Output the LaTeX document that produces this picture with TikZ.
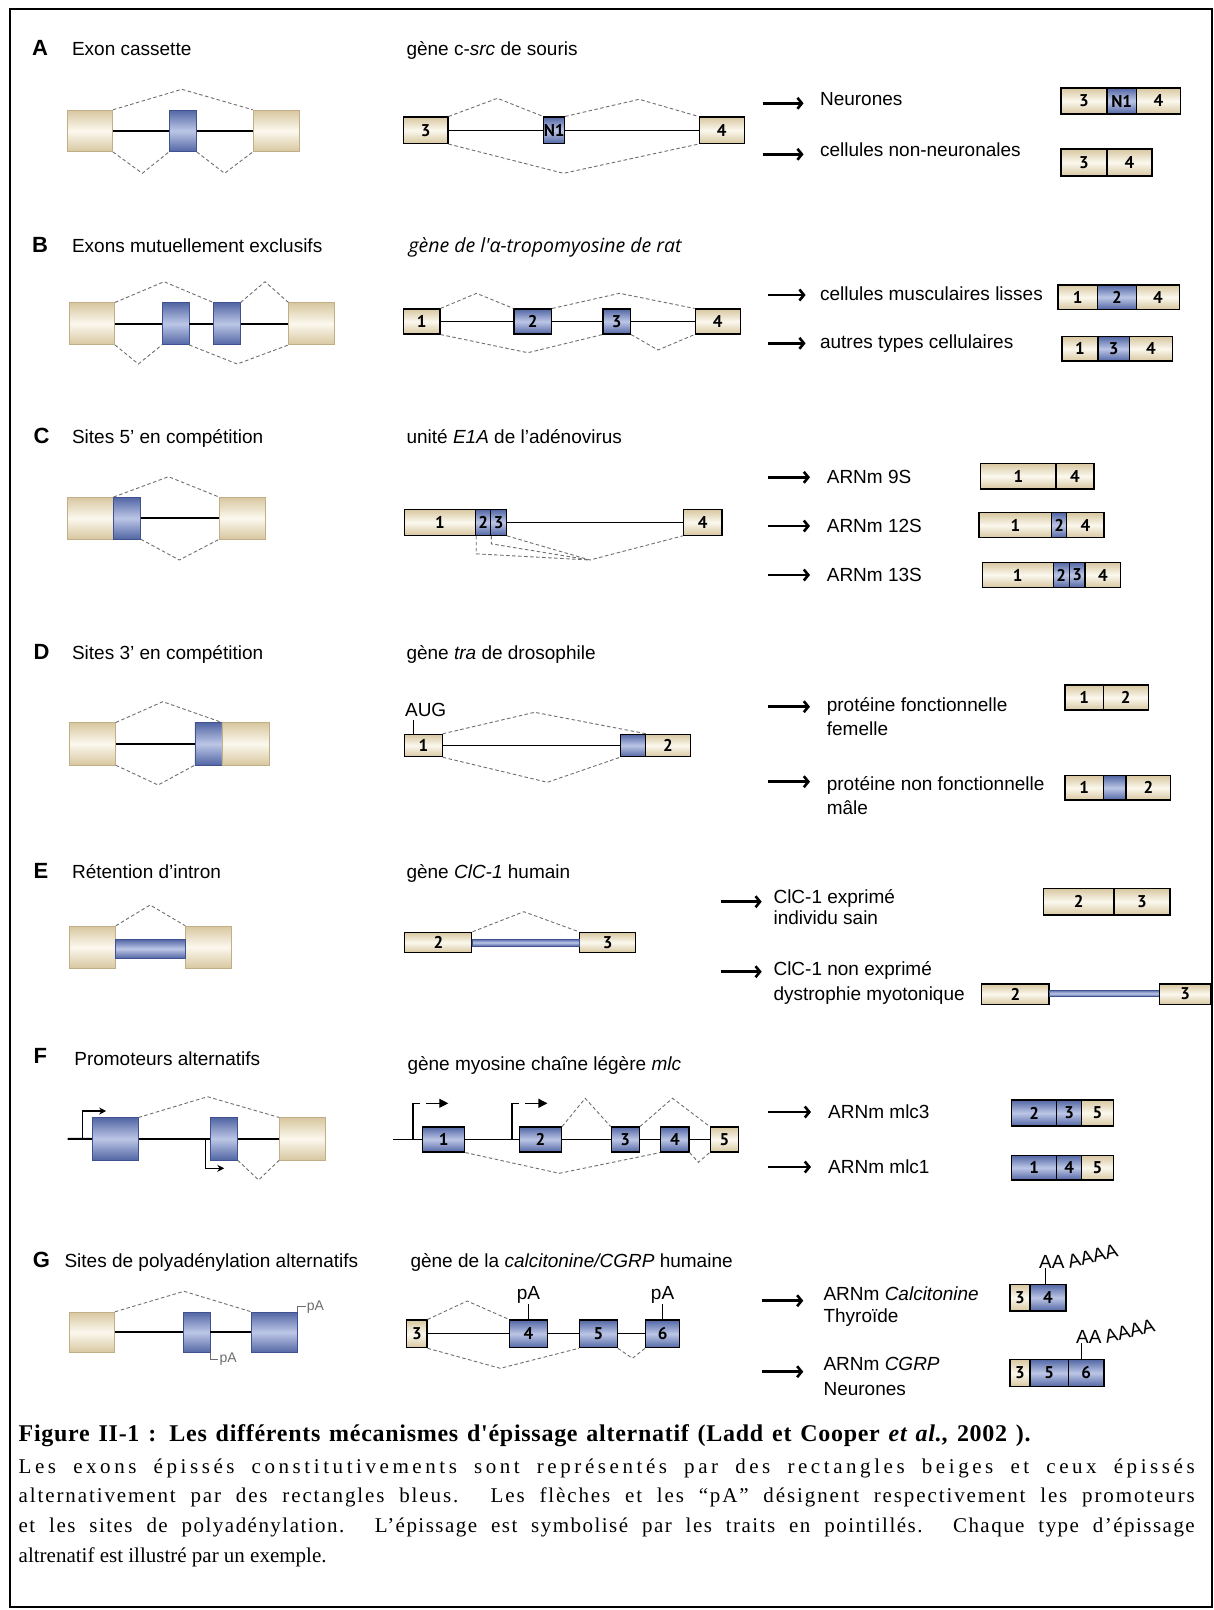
\documentclass[tikz,border=0pt]{standalone}
\usepackage{fontspec}
\usepackage{graphicx}
\setmainfont{Liberation Sans}
\newfontfamily\numf{PT Sans}
\newfontfamily\itf{Open Sans}
\newfontfamily\capf{Liberation Serif}
\usetikzlibrary{arrows.meta}
\definecolor{bD}{HTML}{D8C7A0}
\definecolor{bL}{HTML}{FBF8EE}
\definecolor{bdr}{HTML}{BFAE86}
\definecolor{uD}{HTML}{5266A4}
\definecolor{uL}{HTML}{BCC6E6}
\definecolor{udr}{HTML}{3F5190}
\definecolor{dsh}{HTML}{6E6E6E}
\newcommand\hsz{\fontsize{19}{23}\selectfont}
\newcommand\lsz{\fontsize{19}{22}\selectfont}
\newcommand\nsz{\numf\bfseries\fontsize{17}{17}\selectfont}
\newcommand\exon[7]{\pgfmathsetmacro\exw{#5-(#3)}\pgfmathsetmacro\exh{#6-(#4)}%
  \node[#1,minimum width=\exw pt,minimum height=\exh pt] (#2) at ({(#3+#5)/2},{(#4+#6)/2}) {#7};}
\begin{document}
\begin{tikzpicture}[x=1pt,y=-1pt,
  bLs/.style={draw=bdr,line width=0.5pt,top color=bD,bottom color=bD,middle color=bL,inner sep=0pt},
  uLs/.style={draw=udr,line width=0.5pt,top color=uD,bottom color=uD,middle color=uL,inner sep=0pt},
  bM/.style={bLs,draw=black,line width=1.1pt,font=\nsz},
  uM/.style={uLs,draw=black,line width=1.1pt,font=\nsz},
  spl/.style={draw=dsh,line width=0.9pt,dash pattern=on 3.5pt off 2.5pt},
  intr/.style={line width=2pt},
  intm/.style={line width=1.2pt},
  res/.style={line width=2.6pt,-{Straight Barb[length=4.5pt,width=11pt]}},
  prom/.style={line width=1.4pt,-{Stealth[length=7pt,width=7pt]}},
  letr/.style={anchor=base west,font=\bfseries\fontsize{22}{22}\selectfont},
  hd/.style={anchor=base west,font=\hsz},
  lt/.style={anchor=base west,font=\lsz,align=left},
  pa/.style={font=\fontsize{19}{19}\selectfont,inner sep=1pt},
  aa/.style={anchor=base west,font=\fontsize{19}{19}\selectfont,inner sep=0pt},
  captxt/.style={anchor=base west,inner sep=0pt,font=\capf\fontsize{21}{24}\selectfont}]
\useasboundingbox (0,0) rectangle (1214,1610);
\fill[white] (0,0) rectangle (1214,1610);

% ================= A =================
\node[letr] (lA) at (28.5,55) {A};
\node[hd] (hA) at (68.5,55) {Exon cassette};
\node[hd] (mA) at (403,55) {gène c-\textit{src} de souris};
\exon{bLs}{A1}{67.2}{110}{112.7}{151.7}{}
\exon{uLs}{A2}{169.2}{110}{196.5}{151.7}{}
\exon{bLs}{A3}{253}{110}{299.3}{151.7}{}
\draw[intr] (A1) -- (A2); \draw[intr] (A2) -- (A3);
\coordinate (Aa) at (181.9,89.3); \coordinate (Ab) at (142.3,173.3); \coordinate (Ac) at (224.6,173.3);
\draw[spl] (A1.north east) -- (Aa) -- (A3.north west);
\draw[spl] (A1.south east) -- (Ab) -- (A2.south west);
\draw[spl] (A2.south east) -- (Ac) -- (A3.south west);
\exon{bM}{AM3}{403.3}{117}{448}{143.5}{3}
\exon{uM}{AMN}{543.7}{117}{564.6}{143.5}{N1}
\exon{bM}{AM4}{699.1}{117}{744.1}{143.5}{4}
\draw[intm] (AM3) -- (AMN); \draw[intm] (AMN) -- (AM4);
\coordinate (Ad) at (497.4,98.3); \coordinate (Ae) at (639.2,99.3); \coordinate (Af) at (563.5,173.3);
\draw[spl] (AM3.north east) -- (Ad) -- (AMN.north west);
\draw[spl] (AMN.north east) -- (Ae) -- (AM4.north west);
\draw[spl] (AM3.south east) -- (Af) -- (AM4.south west);
\coordinate (Ar1) at (762.5,103.3); \coordinate (Ar1e) at (803.6,103.3);
\coordinate (Ar2) at (762.5,154.3); \coordinate (Ar2e) at (803.6,154.3);
\draw[res] (Ar1) -- (Ar1e); \draw[res] (Ar2) -- (Ar2e);
\node[lt] (tA1) at (816.5,105.7) {Neurones};
\node[lt] (tA2) at (816.5,156) {cellules non-neuronales};
\exon{bM}{RA1}{1061}{88}{1107}{114}{3}
\exon{uM}{RA2}{1107}{88}{1136.4}{114}{N1}
\exon{bM}{RA3}{1136.4}{88}{1180.7}{114}{4}
\exon{bM}{RA4}{1061}{149}{1107}{176}{3}
\exon{bM}{RA5}{1107}{149}{1152}{176}{4}

% ================= B =================
\node[letr] (lB) at (28.5,252) {B};
\node[hd] (hB) at (68.5,252) {Exons mutuellement exclusifs};
\node[anchor=base west,font=\itf\itshape\fontsize{19.5}{22}\selectfont] (mB) at (405,252) {gène de l'α-tropomyosine de rat};
\exon{bLs}{B1}{69.2}{302.7}{114.7}{344.7}{}
\exon{uLs}{B2}{162.1}{302.7}{189}{344.7}{}
\exon{uLs}{B3}{213.5}{302.7}{240.4}{344.7}{}
\exon{bLs}{B4}{288.7}{302.7}{334.1}{344.7}{}
\draw[intr] (B1) -- (B2); \draw[intr] (B2) -- (B3); \draw[intr] (B3) -- (B4);
\coordinate (Ba) at (164.1,281.7); \coordinate (Bb) at (265,281.7);
\coordinate (Bc) at (138.4,364); \coordinate (Bd) at (237.2,364);
\draw[spl] (B1.north east) -- (Ba) -- (B3.north west);
\draw[spl] (B3.north east) -- (Bb) -- (B4.north west);
\draw[spl] (B1.south east) -- (Bc) -- (B2.south west);
\draw[spl] (B2.south east) -- (Bd) -- (B4.south west);
\exon{bM}{BM1}{403.3}{309}{440}{334}{1}
\exon{uM}{BM2}{514}{309}{551.6}{334}{2}
\exon{uM}{BM3}{603}{309}{630.5}{334}{3}
\exon{bM}{BM4}{695.1}{309}{740.2}{334}{4}
\draw[intm] (BM1) -- (BM2); \draw[intm] (BM2) -- (BM3); \draw[intm] (BM3) -- (BM4);
\coordinate (Be) at (476.5,293.3); \coordinate (Bf) at (619.6,293.3);
\coordinate (Bg) at (527.9,352.7); \coordinate (Bh) at (658,350);
\draw[spl] (BM1.north east) -- (Be) -- (BM2.north west);
\draw[spl] (BM2.north east) -- (Bf) -- (BM4.north west);
\draw[spl] (BM1.south east) -- (Bg) -- (BM3.south west);
\draw[spl] (BM3.south east) -- (Bh) -- (BM4.south west);
\coordinate (Br1) at (768.4,295); \coordinate (Br1e) at (805.6,295);
\coordinate (Br2) at (768.4,343.3); \coordinate (Br2e) at (805.6,343.3);
\draw[res] (Br1) -- (Br1e); \draw[res] (Br2) -- (Br2e);
\node[lt] (tB1) at (816.5,300) {cellules musculaires lisses};
\node[lt] (tB2) at (816.5,348.3) {autres types cellulaires};
\exon{bM}{RB1}{1058}{285}{1097.3}{309.3}{1}
\exon{uM}{RB2}{1097.3}{285}{1136.4}{309.3}{2}
\exon{bM}{RB3}{1136.4}{285}{1179.5}{309.3}{4}
\exon{bM}{RB4}{1062}{336.7}{1098}{361}{1}
\exon{uM}{RB5}{1098}{336.7}{1129.4}{361}{3}
\exon{bM}{RB6}{1129.4}{336.7}{1172.4}{361}{4}

% ================= C =================
\node[letr] (lC) at (30,443.7) {C};
\node[hd] (hC) at (68.5,443.7) {Sites 5' en compétition};
\node[hd] (mC) at (403,443.7) {unité \textit{E1A} de l'adénovirus};
\exon{bLs}{C1}{67.5}{497.3}{113.3}{539}{}
\exon{uLs}{C2}{113.3}{497.3}{140.6}{539}{}
\exon{bLs}{C3}{219.4}{497.3}{265.7}{539}{}
\draw[intr] (C2) -- (C3);
\coordinate (Ca) at (168.5,476.7); \coordinate (Cb) at (179.3,560);
\draw[spl] (C1.north east) -- (Ca) -- (C3.north west);
\draw[spl] (C2.south east) -- (Cb) -- (C3.south west);
\exon{bM}{CM1}{404.4}{509.3}{475.7}{535.3}{1}
\exon{uM}{CM2}{475.7}{509.3}{490.8}{535.3}{2}
\exon{uM}{CM3}{490.8}{509.3}{506.4}{535.3}{3}
\exon{bM}{CM4}{683.3}{509.3}{722}{535.3}{4}
\draw[intm] (CM3) -- (CM4);
\coordinate (Cc) at (589.9,560);
\draw[spl] (CM1.south east) -- ++(0,18) -- (Cc);
\draw[spl] (CM2.south east) -- ++(0,8) -- (Cc);
\draw[spl] (CM3.south east) -- (Cc) -- (CM4.south west);
\foreach \i/\y in {1/477.3,2/526,3/575}{
  \coordinate (Cr\i) at (768.3,\y); \coordinate (Cr\i e) at (810,\y);
  \draw[res] (Cr\i) -- (Cr\i e);}
\node[lt] (tC1) at (823.3,483.3) {ARNm 9S};
\node[lt] (tC2) at (823.3,532) {ARNm 12S};
\node[lt] (tC3) at (823.3,581) {ARNm 13S};
\exon{bM}{RC1}{980.7}{463.3}{1056}{489}{1}
\exon{bM}{RC2}{1056}{463.3}{1094}{489}{4}
\exon{bM}{RC3}{979}{512.7}{1051.7}{537.7}{1}
\exon{uM}{RC4}{1051.7}{512.7}{1066.7}{537.7}{2}
\exon{bM}{RC5}{1066.7}{512.7}{1104}{537.7}{4}
\exon{bM}{RC6}{982.3}{562.3}{1053.3}{587.7}{1}
\exon{uM}{RC7}{1053.3}{562.3}{1069.3}{587.7}{2}
\exon{uM}{RC8}{1069.3}{562.3}{1085}{587.7}{3}
\exon{bM}{RC9}{1085}{562.3}{1120.7}{587.7}{4}

% ================= D =================
\node[letr] (lD) at (30,659) {D};
\node[hd] (hD) at (68.5,659) {Sites 3' en compétition};
\node[hd] (mD) at (403,659) {gène \textit{tra} de drosophile};
\exon{bLs}{D1}{69.4}{722.7}{115.6}{765}{}
\exon{uLs}{D2}{194.9}{722.7}{221.8}{765}{}
\exon{bLs}{D3}{221.8}{722.7}{269}{765}{}
\draw[intr] (D1) -- (D2);
\coordinate (Da) at (162.8,701.7); \coordinate (Db) at (158.1,785);
\draw[spl] (D1.north east) -- (Da) -- (D2.north east);
\draw[spl] (D1.south east) -- (Db) -- (D2.south west);
\node[anchor=base west,font=\lsz,inner sep=0pt] (AUG) at (404.9,716.7) {AUG};
\exon{bM}{DM1}{404.9}{734.3}{442.2}{756.7}{1}
\exon{uM}{DM2}{620.6}{734.3}{645.6}{756.7}{}
\exon{bM}{DM3}{645.6}{734.3}{690.4}{756.7}{2}
\draw[line width=0.9pt] ([xshift=9pt]DM1.north west) -- ++(0,-14);
\draw[intm] (DM1) -- (DM2);
\coordinate (Dc) at (534.7,712.3); \coordinate (Dd) at (547.4,782.3);
\draw[spl] (DM1.north east) -- (Dc) -- (DM2.north east);
\draw[spl] (DM1.south east) -- (Dd) -- (DM2.south west);
\coordinate (Dr1) at (768.3,706.7); \coordinate (Dr1e) at (810,706.7);
\coordinate (Dr2) at (768.3,781.7); \coordinate (Dr2e) at (810,781.7);
\draw[res] (Dr1) -- (Dr1e); \draw[res] (Dr2) -- (Dr2e);
\node[lt] (tD1) at (823.3,711.7) {protéine fonctionnelle};
\node[lt] (tD2) at (823.3,735) {femelle};
\node[lt] (tD3) at (823.3,790) {protéine non fonctionnelle};
\node[lt] (tD4) at (823.3,814) {mâle};
\exon{bM}{RD1}{1065}{685}{1103.3}{710}{1}
\exon{bM}{RD2}{1103.3}{685}{1148.3}{710}{2}
\exon{bM}{RD3}{1065}{775.7}{1103.3}{800}{1}
\exon{uM}{RD4}{1103.3}{775.7}{1126}{800}{}
\exon{bM}{RD5}{1126}{775.7}{1170.7}{800}{2}

% ================= E =================
\node[letr] (lE) at (30,878) {E};
\node[hd] (hE) at (68.5,878) {Rétention d'intron};
\node[hd] (mE) at (403,878) {gène \textit{ClC-1} humain};
\exon{bLs}{E1}{69.4}{926}{115.6}{968.3}{}
\exon{bLs}{E2}{185.5}{926}{231.2}{968.3}{}
\exon{uLs}{Ei}{115.6}{939.3}{185.5}{958.3}{}
\coordinate (Ea) at (150.1,905);
\draw[spl] (E1.north east) -- (Ea) -- (E2.north west);
\exon{bM}{EM2}{404.9}{932.3}{471.9}{952.7}{2}
\exon{bM}{EM3}{579.5}{932.3}{635.7}{952.7}{3}
\exon{uLs}{EMi}{471.9}{939}{579.5}{946}{}
\coordinate (Eb) at (523.8,911.7);
\draw[spl] (EM2.north east) -- (Eb) -- (EM3.north west);
\coordinate (Er1) at (720.7,901.7); \coordinate (Er1e) at (761.7,901.7);
\coordinate (Er2) at (720.7,971.7); \coordinate (Er2e) at (761.7,971.7);
\draw[res] (Er1) -- (Er1e); \draw[res] (Er2) -- (Er2e);
\node[lt] (tE1) at (770,903) {ClC-1 exprimé};
\node[lt] (tE2) at (770,924) {individu sain};
\node[lt] (tE3) at (770,975) {ClC-1 non exprimé};
\node[lt] (tE4) at (770,1000) {dystrophie myotonique};
\exon{bM}{RE1}{1043.3}{888.3}{1114}{915}{2}
\exon{bM}{RE2}{1114}{888.3}{1170}{915}{3}
\exon{bM}{RE3}{981.7}{984}{1049}{1004.3}{2}
\exon{uLs}{RE4}{1049}{990}{1159.3}{996.7}{}
\exon{bM}{RE5}{1159.3}{984}{1211}{1004.3}{3}

% ================= F =================
\node[letr] (lF) at (30,1063.7) {F};
\node[hd] (hF) at (70.8,1065.3) {Promoteurs alternatifs};
\node[hd] (mF) at (404,1070.7) {gène myosine chaîne légère \textit{mlc}};
\exon{uLs}{F1}{92}{1117.7}{138.3}{1160}{}
\exon{uLs}{F2}{210}{1117.7}{237.4}{1160}{}
\exon{bLs}{F3}{279.4}{1117.7}{325.6}{1160}{}
\coordinate (Fs) at (67.5,1138.85);
\draw[intr] (Fs) -- (F1); \draw[intr] (F1) -- (F2); \draw[intr] (F2) -- (F3);
\draw[prom] (82.6,1138.85) -- (82.6,1111) -- (106.2,1111);
\draw[prom] (205.3,1138.85) -- (205.3,1168.3) -- (224.2,1168.3);
\coordinate (Fa) at (207.6,1096.7); \coordinate (Fb) at (258.6,1180);
\draw[spl] (F1.north east) -- (Fa) -- (F3.north west);
\draw[spl] (F2.south east) -- (Fb) -- (F3.south west);
\exon{uM}{FM1}{422.4}{1127}{464.8}{1152}{1}
\exon{uM}{FM2}{519.1}{1127}{561.6}{1152}{2}
\exon{uM}{FM3}{611.1}{1127}{639.5}{1152}{3}
\exon{uM}{FM4}{660.7}{1127}{689}{1152}{4}
\exon{bM}{FM5}{710.2}{1127}{738.6}{1152}{5}
\coordinate (Fs2) at (393.1,1139.5);
\draw[intm] (Fs2) -- (FM1); \draw[intm] (FM1) -- (FM2); \draw[intm] (FM2) -- (FM3);
\draw[intm] (FM3) -- (FM4); \draw[intm] (FM4) -- (FM5);
\draw[line width=1.2pt] (412.9,1139.5) -- (412.9,1103.3) -- (420,1103.3);
\draw[line width=1.2pt,-{Triangle[length=9pt,width=9pt]}] (426,1103.3) -- (448.3,1103.3);
\draw[line width=1.2pt] (512,1139.5) -- (512,1103.3) -- (519,1103.3);
\draw[line width=1.2pt,-{Triangle[length=9pt,width=9pt]}] (525,1103.3) -- (547.4,1103.3);
\coordinate (Fc) at (585.2,1098.3); \coordinate (Fd) at (672.5,1098.3);
\coordinate (Fe) at (559.2,1173.3); \coordinate (Ff) at (698.4,1162.3);
\draw[spl] (FM2.north east) -- (Fc) -- (FM3.north west);
\draw[spl] (FM3.north east) -- (Fd) -- (FM5.north west);
\draw[spl] (FM1.south east) -- (Fe) -- (FM4.south west);
\draw[spl] (FM4.south east) -- (Ff) -- (FM5.south west);
\coordinate (Fr1) at (768,1112); \coordinate (Fr1e) at (811,1112);
\coordinate (Fr2) at (768,1167); \coordinate (Fr2e) at (811,1167);
\draw[res] (Fr1) -- (Fr1e); \draw[res] (Fr2) -- (Fr2e);
\node[lt] (tF1) at (824.7,1118) {ARNm mlc3};
\node[lt] (tF2) at (824.7,1173) {ARNm mlc1};
\exon{uM}{RF1}{1011.6}{1100}{1056.8}{1126}{2}
\exon{uM}{RF2}{1056.8}{1100}{1081.4}{1126}{3}
\exon{bM}{RF3}{1081.4}{1100}{1113.3}{1126}{5}
\exon{uM}{RF4}{1011.6}{1155.4}{1056.8}{1180}{1}
\exon{uM}{RF5}{1056.8}{1155.4}{1081.4}{1180}{4}
\exon{bM}{RF6}{1081.4}{1155.4}{1113.3}{1180}{5}

% ================= G =================
\node[letr] (lG) at (29.3,1267) {G};
\node[hd] (hG) at (61,1267) {Sites de polyadénylation alternatifs};
\node[hd] (mG) at (407,1267) {gène de la \textit{calcitonine/CGRP} humaine};
\exon{bLs}{G1}{69.4}{1312}{114.7}{1352.7}{}
\exon{uLs}{G2}{183.1}{1312}{210}{1352.7}{}
\exon{uLs}{G3}{251.5}{1312}{297.3}{1352.7}{}
\draw[intr] (G1) -- (G2); \draw[intr] (G2) -- (G3);
\coordinate (Ga) at (184,1291.3);
\draw[spl] (G1.north east) -- (Ga) -- (G3.north west);
\draw[line width=0.7pt,draw=dsh] (G3.north east) -- ++(0,-5) -- ++(8,0) node[anchor=west,inner sep=1pt,font=\fontsize{14}{14}\selectfont,text=dsh] (pA1) {pA};
\draw[line width=0.7pt,draw=dsh] (G2.south east) -- ++(0,6) -- ++(8,0) node[anchor=west,inner sep=1pt,font=\fontsize{14}{14}\selectfont,text=dsh] (pA2) {pA};
\exon{bM}{GM3}{406.8}{1320}{427}{1347.7}{3}
\exon{uM}{GM4}{509.7}{1320}{547.4}{1347.7}{4}
\exon{uM}{GM5}{579.5}{1320}{617.3}{1347.7}{5}
\exon{uM}{GM6}{645.6}{1320}{679.6}{1347.7}{6}
\draw[intm] (GM3) -- (GM4); \draw[intm] (GM4) -- (GM5); \draw[intm] (GM5) -- (GM6);
\draw[line width=0.9pt] (GM4.north) -- ++(0,-15) node[anchor=south,pa] (pA3) {pA};
\draw[line width=0.9pt] (GM6.north) -- ++(0,-15) node[anchor=south,pa] (pA4) {pA};
\coordinate (Gb) at (467.2,1301); \coordinate (Gc) at (500.2,1368.3); \coordinate (Gd) at (632.4,1358.3);
\draw[spl] (GM3.north east) -- (Gb) -- (GM4.north west);
\draw[spl] (GM3.south east) -- (Gc) -- (GM5.south west);
\draw[spl] (GM5.south east) -- (Gd) -- (GM6.south west);
\coordinate (Gr1) at (761.7,1300.7); \coordinate (Gr1e) at (803.3,1300.7);
\coordinate (Gr2) at (761.7,1371.7); \coordinate (Gr2e) at (803.3,1371.7);
\draw[res] (Gr1) -- (Gr1e); \draw[res] (Gr2) -- (Gr2e);
\node[lt] (tG1) at (820,1300.7) {ARNm \textit{Calcitonine}};
\node[lt] (tG2) at (820,1322.7) {Thyroïde};
\node[lt] (tG3) at (820,1370) {ARNm \textit{CGRP}};
\node[lt] (tG4) at (820,1395) {Neurones};
\exon{bM}{RG1}{1010}{1284.3}{1030}{1311}{3}
\exon{uM}{RG2}{1030}{1284.3}{1066}{1311}{4}
\exon{bM}{RG3}{1010}{1359.3}{1030}{1386.7}{3}
\exon{uM}{RG4}{1030}{1359.3}{1068.3}{1386.7}{5}
\exon{uM}{RG5}{1068.3}{1359.3}{1104}{1386.7}{6}
\draw[line width=0.9pt] ([xshift=-3pt]RG2.north) -- ++(0,-16) coordinate (pa5);
\node[aa] (AA1) at (1039,1268.3) {AA\hspace{2pt}\rotatebox[origin=lB]{14}{AAAA}};
\draw[line width=0.9pt] ([xshift=-5pt]RG5.north) -- ++(0,-16) coordinate (pa6);
\node[aa] (AA3) at (1076,1343.3) {AA\hspace{2pt}\rotatebox[origin=lB]{14}{AAAA}};

% ================= caption =================
\node[captxt,font=\capf\bfseries\addfontfeature{LetterSpace=3}\fontsize{24}{26}\selectfont] (cap0) at (18.5,1441) {\makebox[1012pt][s]{Figure II-1 : Les différents mécanismes d'épissage alternatif (Ladd et Cooper \textit{et al}., 2002 ).}};
\node[captxt,font=\capf\addfontfeature{LetterSpace=17}\fontsize{21}{24}\selectfont] (cap1) at (18.5,1473) {\makebox[1176pt][s]{Les exons épissés constitutivements sont représentés par des rectangles beiges et ceux épissés}};
\node[captxt,font=\capf\addfontfeature{LetterSpace=9}\fontsize{21}{24}\selectfont] (cap2) at (18.5,1502.5) {\makebox[1176pt][s]{alternativement par des rectangles bleus. Les flèches et les “pA” désignent respectivement les promoteurs}};
\node[captxt,font=\capf\addfontfeature{LetterSpace=7}\fontsize{21}{24}\selectfont] (cap3) at (18.5,1532) {\makebox[1176pt][s]{et les sites de polyadénylation. L’épissage est symbolisé par les traits en pointillés. Chaque type d’épissage}};
\node[captxt] (cap4) at (18.5,1562) {altrenatif est illustré par un exemple.};

\draw[line width=2.2pt] (10,9) rectangle (1212,1607);
\end{tikzpicture}
\end{document}
